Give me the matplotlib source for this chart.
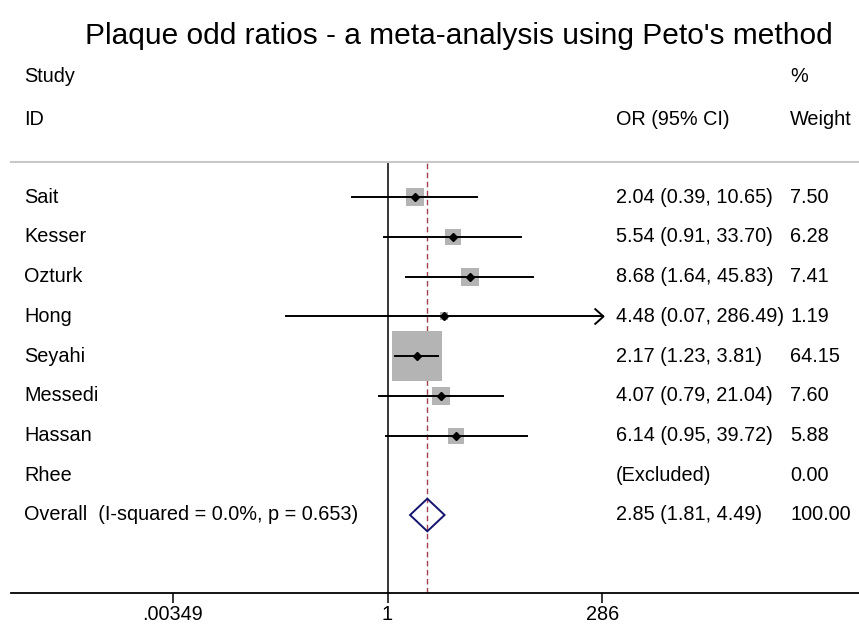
import numpy as np
import matplotlib
matplotlib.use("Agg")
import matplotlib.pyplot as plt
from matplotlib.patches import Polygon
from matplotlib.path import Path

plt.rcParams['font.family'] = ['Liberation Sans', 'DejaVu Sans']

studies = ["Sait", "Kesser", "Ozturk", "Hong", "Seyahi", "Messedi", "Hassan", "Rhee"]
odds = [2.04, 5.54, 8.68, 4.48, 2.17, 4.07, 6.14, None]
lower = [0.39, 0.91, 1.64, 0.07, 1.23, 0.79, 0.95, None]
upper = [10.65, 33.70, 45.83, 286.49, 3.81, 21.04, 39.72, None]
weights = [7.50, 6.28, 7.41, 1.19, 64.15, 7.60, 5.88, 0.00]
overall_label = "Overall  (I-squared = 0.0%, p = 0.653)"
overall = [2.85, 1.81, 4.49]
overall_weight = 100.00
tick_vals = [0.00349, 1, 286]
tick_labels = [".00349", "1", "286"]

W, H = 859, 627
fig = plt.figure(figsize=(W / 100, H / 100), dpi=100)

# axes geometry in pixels
ax_left, ax_right = 11, 859
ax_top, ax_bottom = 162, 593
ax = fig.add_axes([ax_left / W, 1 - ax_bottom / H, (ax_right - ax_left) / W, (ax_bottom - ax_top) / H])

# x-scale: 1 at px 387.5, 38.0 px per log unit
px1, ppl = 387.5, 38.0
xmin = np.exp((ax_left - px1) / ppl)
xmax = np.exp((ax_right - px1) / ppl)
ax.set_xscale('log')
ax.set_xlim(xmin, xmax)

row0, rowh = 197, 39.75
ax.set_ylim((ax_bottom - row0) / rowh, (ax_top - row0) / rowh)

for s in ['left', 'right']:
    ax.spines[s].set_visible(False)
ax.spines['top'].set_color('#c8c8c8')
ax.spines['top'].set_linewidth(1.5)
ax.spines['bottom'].set_linewidth(1.3)
ax.set_yticks([])
ax.set_xticks(tick_vals)
ax.set_xticklabels(tick_labels)
ax.xaxis.set_minor_locator(matplotlib.ticker.NullLocator())
ax.tick_params(axis='x', length=7, width=1.1, labelsize=14.3, pad=1.5)

# reference lines
ax.axvline(1, color='black', lw=1.1, zorder=1)
ax.axvline(overall[0], color='#a04050', lw=1.0, ls=(0, (4, 2.5)), zorder=1)

fs = 14.3
xt = ax.get_yaxis_transform()
def fx(px):
    return (px - ax_left) / (ax_right - ax_left)

# open chevron arrowhead marker, tip at origin
chevron = Path([(-1.12, 1.0), (0.0, 0.0), (-1.12, -1.0)],
               [Path.MOVETO, Path.LINETO, Path.LINETO])

hi_lim = tick_vals[-1]
ci_lw = 1.4
for i, name in enumerate(studies):
    ax.text(fx(24), i, name, transform=xt, fontsize=fs, va='center', ha='left')
    if odds[i] is None:
        ax.text(fx(616), i, "(Excluded)", transform=xt, fontsize=fs, va='center', ha='left')
        ax.text(fx(790), i, f"{weights[i]:.2f}", transform=xt, fontsize=fs, va='center', ha='left')
        continue
    side_px = 6.1 * np.sqrt(weights[i]) + 1.0
    side_pt = side_px * 72 / 100
    ax.scatter([odds[i]], [i], marker='s', s=side_pt ** 2, color='#b4b4b4', linewidths=0, zorder=2)
    hi = upper[i]
    if hi > hi_lim * 1.0001:
        ax.plot([lower[i], hi_lim * 1.02], [i, i], color='black', lw=ci_lw, zorder=3)
        ax.plot([hi_lim * 1.02], [i], marker=chevron, ms=12.9, mfc='none', mec='black',
                mew=ci_lw, ls='none', zorder=3)
    else:
        ax.plot([lower[i], hi], [i, i], color='black', lw=ci_lw, zorder=3)
    ax.plot([odds[i]], [i], marker='D', ms=4.5, color='black', zorder=4)
    ax.text(fx(616), i, f"{odds[i]:.2f} ({lower[i]:.2f}, {upper[i]:.2f})", transform=xt,
            fontsize=fs, va='center', ha='left')
    ax.text(fx(790), i, f"{weights[i]:.2f}", transform=xt, fontsize=fs, va='center', ha='left')

# overall
r = len(studies)
ax.text(fx(24), r, overall_label, transform=xt, fontsize=fs, va='center', ha='left')
dh = 0.41
diamond = Polygon([[overall[1], r], [overall[0], r - dh], [overall[2], r], [overall[0], r + dh]],
                  closed=True, fill=False, edgecolor='#14146e', lw=1.4, zorder=5)
ax.add_patch(diamond)
ax.text(fx(616), r, f"{overall[0]:.2f} ({overall[1]:.2f}, {overall[2]:.2f})", transform=xt,
        fontsize=fs, va='center', ha='left')
ax.text(fx(790), r, f"{overall_weight:.2f}", transform=xt, fontsize=fs, va='center', ha='left')

# headers
ax.text(fx(24), -3.02, "Study", transform=xt, fontsize=fs, va='center', ha='left', clip_on=False)
ax.text(fx(24), -1.96, "ID", transform=xt, fontsize=fs, va='center', ha='left', clip_on=False)
ax.text(fx(616), -1.96, "OR (95% CI)", transform=xt, fontsize=fs, va='center', ha='left', clip_on=False)
ax.text(fx(790), -3.02, "%", transform=xt, fontsize=fs, va='center', ha='left', clip_on=False)
ax.text(fx(790), -1.96, "Weight", transform=xt, fontsize=fs, va='center', ha='left', clip_on=False)

fig.text(459 / W, 1 - 36 / H, "Plaque odd ratios - a meta-analysis using Peto's method",
         fontsize=21.5, ha='center', va='center')

fig.savefig("out.png", dpi=100, facecolor='white')
